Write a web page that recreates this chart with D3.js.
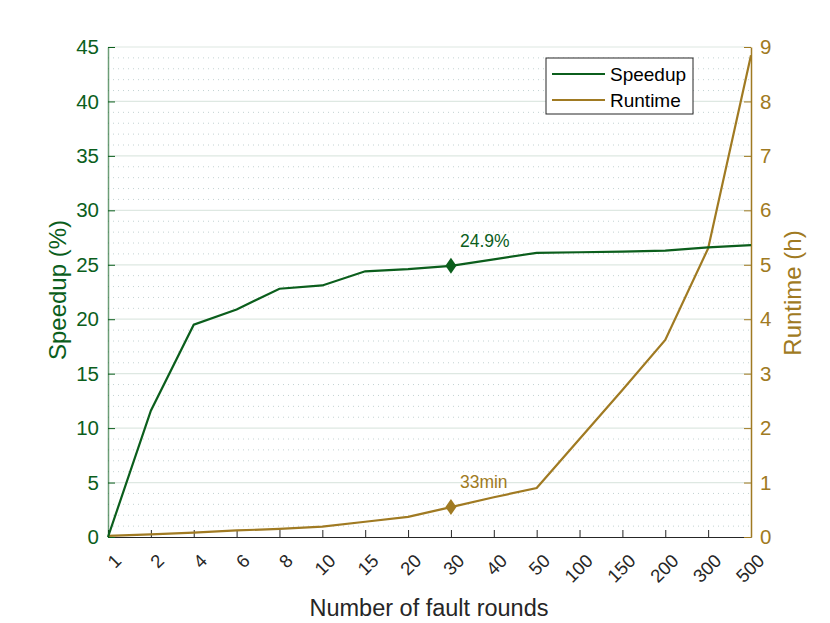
<!DOCTYPE html>
<html>
<head>
<meta charset="utf-8">
<script src="https://cdn.jsdelivr.net/npm/d3@7"></script>
<style>
  body { margin: 0; background: #fff; }
  svg { font-family: "Liberation Sans", Arial, sans-serif; }
</style>
</head>
<body>
<div id="app"></div>
<script>
// data
const rounds = ['1', '2', '4', '6', '8', '10', '15', '20', '30', '40', '50', '100', '150', '200', '300', '500']
const speedup = [0, 11.6, 19.5, 20.9, 22.8, 23.1, 24.4, 24.6, 24.9, 25.5, 26.1, 26.15, 26.2, 26.3, 26.6, 26.8]
const runtime = [0.02, 0.05, 0.08, 0.12, 0.15, 0.19, 0.28, 0.37, 0.55, 0.73, 0.9, 1.8, 2.7, 3.62, 5.3, 8.85]
const leftTicks = [0, 5, 10, 15, 20, 25, 30, 35, 40, 45]
const rightTicks = [0, 1, 2, 3, 4, 5, 6, 7, 8, 9]
const marked = '30'
const notes = [{ series: 'speedup', text: '24.9%' }, { series: 'runtime', text: '33min' }]

const green = '#0b5e1c'
const gold = '#a07a22'
const W = 830, H = 623
const m = { left: 108, right: 751, top: 47, bottom: 537 }

const svg = d3.select('#app').append('svg').attr('width', W).attr('height', H)

const x = d3.scalePoint().domain(rounds).range([m.left, m.right])
const yL = d3.scaleLinear().domain([0, 45]).range([m.bottom, m.top])
const yR = d3.scaleLinear().domain([0, 9]).range([m.bottom, m.top])

// minor dotted grid
const minor = d3.range(0, 45.01, 1).filter(v => v % 5 !== 0)
svg.append('g').selectAll('line').data(minor).join('line')
  .attr('x1', m.left).attr('x2', m.right)
  .attr('y1', d => yL(d)).attr('y2', d => yL(d))
  .attr('stroke', '#c3d2d2').attr('stroke-width', 1).attr('stroke-dasharray', '1,4')

// major grid
svg.append('g').selectAll('line').data(leftTicks.slice(1)).join('line')
  .attr('x1', m.left).attr('x2', m.right)
  .attr('y1', d => yL(d)).attr('y2', d => yL(d))
  .attr('stroke', '#dee8e2').attr('stroke-width', 1.2)

// bottom axis
const xAxis = svg.append('g').attr('transform', `translate(0,${m.bottom})`)
  .call(d3.axisBottom(x).tickSizeInner(-7).tickSizeOuter(0).tickPadding(0))
xAxis.select('.domain').attr('stroke', '#262626').attr('stroke-width', 1)
xAxis.selectAll('.tick line').attr('stroke', '#262626')
xAxis.selectAll('.tick text')
  .attr('fill', '#262626').attr('font-size', 18.5)
  .attr('text-anchor', 'end')
  .attr('transform', 'translate(14,25) rotate(-45)')
  .attr('dy', 0).attr('y', 0).attr('x', 0)

// left axis
const lAxis = svg.append('g').attr('transform', `translate(${m.left},0)`)
  .call(d3.axisLeft(yL).tickValues(leftTicks).tickSizeInner(-7).tickSizeOuter(0).tickPadding(9))
lAxis.select('.domain').attr('stroke', green).attr('stroke-opacity', 0.6).attr('stroke-width', 1.5)
lAxis.selectAll('.tick line').attr('stroke', green)
lAxis.selectAll('.tick text').attr('fill', green).attr('font-size', 20.5)

// right axis
const rAxis = svg.append('g').attr('transform', `translate(${m.right},0)`)
  .call(d3.axisRight(yR).tickValues(rightTicks).tickSizeInner(-7).tickSizeOuter(0).tickPadding(9))
rAxis.select('.domain').attr('stroke', gold).attr('stroke-width', 1.5)
rAxis.selectAll('.tick line').attr('stroke', gold)
rAxis.selectAll('.tick text').attr('fill', gold).attr('font-size', 20.5)

// lines
const lineL = d3.line().x((d, i) => x(rounds[i])).y(d => yL(d))
const lineR = d3.line().x((d, i) => x(rounds[i])).y(d => yR(d))
svg.append('path').datum(runtime).attr('d', lineR)
  .attr('fill', 'none').attr('stroke', gold).attr('stroke-width', 2.2)
svg.append('path').datum(speedup).attr('d', lineL)
  .attr('fill', 'none').attr('stroke', green).attr('stroke-width', 2.2)

// markers + notes
const idx = rounds.indexOf(marked)
const diamond = 'M0,-8L5.5,0L0,8L-5.5,0Z'
svg.append('path').attr('d', diamond)
  .attr('transform', `translate(${x(marked)},${yL(speedup[idx])})`).attr('fill', green)
svg.append('path').attr('d', diamond)
  .attr('transform', `translate(${x(marked)},${yR(runtime[idx])})`).attr('fill', gold)

notes.forEach(n => {
  const yy = n.series === 'speedup' ? yL(speedup[idx]) : yR(runtime[idx])
  svg.append('text').attr('x', x(marked) + 9).attr('y', yy - 19)
    .attr('fill', n.series === 'speedup' ? green : gold)
    .attr('font-size', 17.5).text(n.text)
})

// axis titles
svg.append('text').attr('transform', 'translate(66,290) rotate(-90)')
  .attr('text-anchor', 'middle').attr('fill', green).attr('font-size', 24).text('Speedup (%)')
svg.append('text').attr('transform', 'translate(801,293) rotate(-90)')
  .attr('text-anchor', 'middle').attr('fill', gold).attr('font-size', 24).text('Runtime (h)')
svg.append('text').attr('x', 429).attr('y', 616)
  .attr('text-anchor', 'middle').attr('fill', '#262626').attr('font-size', 23.5).text('Number of fault rounds')

// legend
const lg = svg.append('g').attr('transform', 'translate(546,58)')
lg.append('rect').attr('width', 147).attr('height', 56)
  .attr('fill', '#fff').attr('stroke', '#262626').attr('stroke-width', 1)
const items = [{ name: 'Speedup', color: green }, { name: 'Runtime', color: gold }]
items.forEach((it, i) => {
  const yy = 16 + i * 26
  lg.append('line').attr('x1', 6).attr('x2', 59).attr('y1', yy).attr('y2', yy)
    .attr('stroke', it.color).attr('stroke-width', 2.2)
  lg.append('text').attr('x', 64).attr('y', yy + 7)
    .attr('fill', '#000').attr('font-size', 19).text(it.name)
})
</script>
</body>
</html>
